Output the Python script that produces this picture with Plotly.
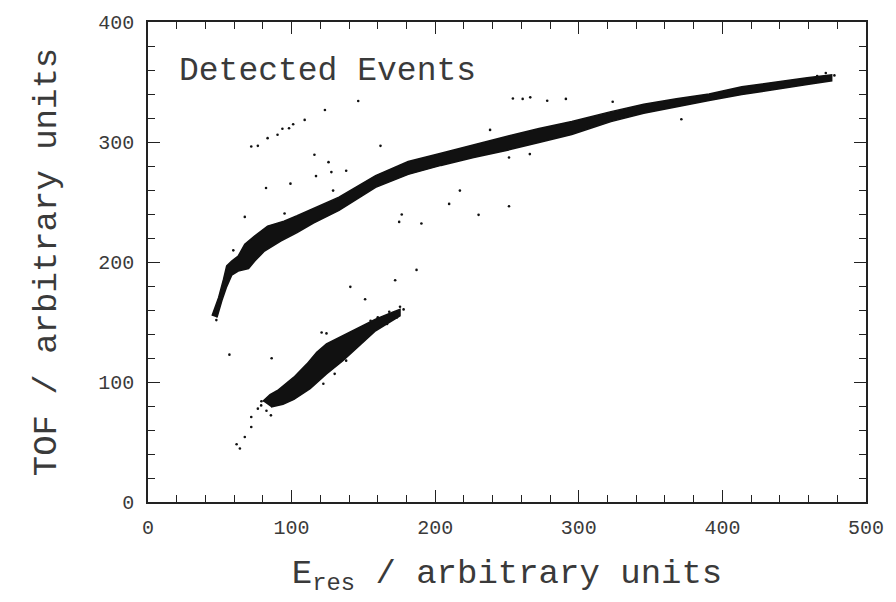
import plotly.graph_objects as go

# ---- Data (data units) ----
# Upper band outline: top/left edge (from lower tip going up-right)
upper_top_x = [44.6, 49.2, 52.6, 54.8, 58.3, 62.8, 67.4, 74.2, 83.3, 94.7, 103.8, 117.5, 133.0,
               158.5, 181.2, 204.0, 226.8, 249.5, 272.3, 295.1, 322.4, 345.2, 368.0, 390.7,
               413.5, 436.3, 459.0, 476.1]
upper_top_y = [155.2, 170.4, 185.6, 196.7, 200.8, 205.0, 214.7, 221.6, 229.9, 234.0, 238.5, 246.0, 254.0,
               272.0, 283.8, 290.7, 297.9, 304.6, 311.2, 317.0, 325.3, 331.5, 336.0, 340.0,
               346.0, 350.0, 353.5, 356.0]
# Upper band outline: bottom/right edge (from lower tip going up-right)
upper_bot_x = [48.0, 51.4, 54.8, 58.3, 62.8, 70.0, 74.5, 81.1, 92.4, 103.8, 115.2, 133.0,
               158.5, 181.2, 204.0, 226.8, 249.5, 272.3, 295.1, 322.4, 345.2, 368.0, 390.7,
               413.5, 436.3, 459.0, 476.1]
upper_bot_y = [153.8, 167.6, 179.5, 189.0, 192.5, 194.5, 201.0, 209.1, 217.4, 224.5, 232.5, 243.0,
               262.2, 273.0, 280.5, 287.1, 292.9, 299.6, 306.2, 317.0, 324.0, 329.5, 334.5,
               339.5, 344.0, 348.0, 351.0]

# Lower band outline: upper edge and lower edge (left to right)
lower_top_x = [80.0, 85.0, 90.2, 101.6, 110.7, 117.5, 124.3, 135.7, 147.1, 158.5, 169.9, 175.5]
lower_top_y = [84.0, 89.5, 92.9, 104.0, 115.1, 124.7, 131.7, 138.6, 145.5, 152.4, 157.9, 160.5]
lower_bot_x = [85.6, 94.0, 101.6, 112.9, 124.3, 135.7, 147.1, 158.5, 169.9, 175.5]
lower_bot_y = [79.1, 81.5, 85.5, 94.4, 106.8, 117.8, 130.3, 142.7, 151.0, 155.2]

# Scattered single events
stray_x = [71.9, 76.5, 83.3, 90.2, 93.6, 98.2, 101.1, 109.1, 123.2, 146.4, 161.9, 115.9,
           125.7, 127.7, 117.0, 138.0, 99.2, 82.2, 67.4, 59.4, 95.1, 128.9, 176.7, 174.9,
           190.4, 187.0, 172.1, 140.9, 209.7, 230.2, 251.4, 217.2, 260.9, 266.2, 278.0,
           291.0, 238.2, 251.4, 265.9, 254.1, 371.4, 323.6, 151.2, 47.6, 56.7, 86.1,
           71.9, 71.9, 67.4, 61.7, 64.0, 76.5, 78.8, 85.6, 120.9, 124.3, 130.0, 122.1,
           173.3, 175.5, 166.5, 138.0, 168.0, 171.0, 178.0, 160.0, 155.0, 79.0, 82.5,
           472.0, 478.0, 466.0]
stray_y = [296.3, 296.8, 303.2, 306.0, 311.0, 311.5, 314.8, 318.4, 326.7, 334.2, 296.8, 289.4,
           283.2, 274.9, 271.6, 276.1, 265.3, 261.7, 237.6, 209.7, 240.4, 259.5, 239.6, 233.4,
           232.1, 193.4, 184.8, 179.3, 248.4, 239.3, 246.5, 259.5, 335.9, 337.2, 334.4,
           335.9, 310.1, 287.1, 289.9, 336.3, 318.9, 333.6, 169.0, 151.6, 122.8, 119.8,
           70.8, 62.5, 54.2, 48.1, 44.6, 77.8, 80.5, 72.2, 141.3, 140.5, 106.8, 98.5,
           153.8, 162.7, 148.3, 117.8, 158.5, 155.0, 160.5, 154.0, 151.0, 84.0, 76.0,
           357.5, 355.5, 355.0]

x_ticks = [0, 100, 200, 300, 400, 500]
y_ticks = [0, 100, 200, 300, 400]

FONT = "Liberation Mono, Courier New, monospace"
INK = "#111111"
TXT = "#3a3a3a"

fig = go.Figure()

fig.add_trace(go.Scatter(
    x=upper_top_x + upper_bot_x[::-1], y=upper_top_y + upper_bot_y[::-1],
    mode="lines", fill="toself", fillcolor=INK,
    line=dict(color=INK, width=1.5), hoverinfo="skip", showlegend=False))

fig.add_trace(go.Scatter(
    x=lower_top_x + lower_bot_x[::-1], y=lower_top_y + lower_bot_y[::-1],
    mode="lines", fill="toself", fillcolor=INK,
    line=dict(color=INK, width=1.5), hoverinfo="skip", showlegend=False))

fig.add_trace(go.Scatter(
    x=stray_x, y=stray_y, mode="markers",
    marker=dict(color=INK, size=2.6, line=dict(width=0)),
    hoverinfo="skip", showlegend=False))

fig.add_annotation(x=20.5, y=358.5, xref="x", yref="y", text="Detected Events",
                   showarrow=False, xanchor="left", yanchor="middle",
                   font=dict(family=FONT, size=33, color=TXT))

axis_common = dict(
    showline=True, linecolor="#222222", linewidth=1.5, mirror="ticks",
    ticks="inside", ticklen=12, tickwidth=1.2, tickcolor="#222222",
    showgrid=False, zeroline=False, ticklabeloverflow="allow",
    tickfont=dict(family=FONT, size=20, color=TXT),
    minor=dict(ticks="inside", ticklen=7, tickwidth=1, tickcolor="#222222", dtick=20, showgrid=False),
)

fig.update_xaxes(range=[0, 500], tickvals=x_ticks, ticktext=[str(v) for v in x_ticks],
                 title=dict(text="E<sub>res</sub> / arbitrary units",
                            font=dict(family=FONT, size=34, color=TXT), standoff=20),
                 ticklabelstandoff=6, **axis_common)
fig.update_yaxes(range=[0, 400], tickvals=y_ticks, ticktext=[str(v) for v in y_ticks],
                 title=dict(text="TOF / arbitrary units",
                            font=dict(family=FONT, size=34, color=TXT), standoff=31),
                 ticklabelstandoff=8, **axis_common)

fig.update_layout(
    width=896, height=602,
    margin=dict(l=148, r=16, t=20, b=100),
    paper_bgcolor="white", plot_bgcolor="white",
    showlegend=False,
)

fig.write_html("out.html")
